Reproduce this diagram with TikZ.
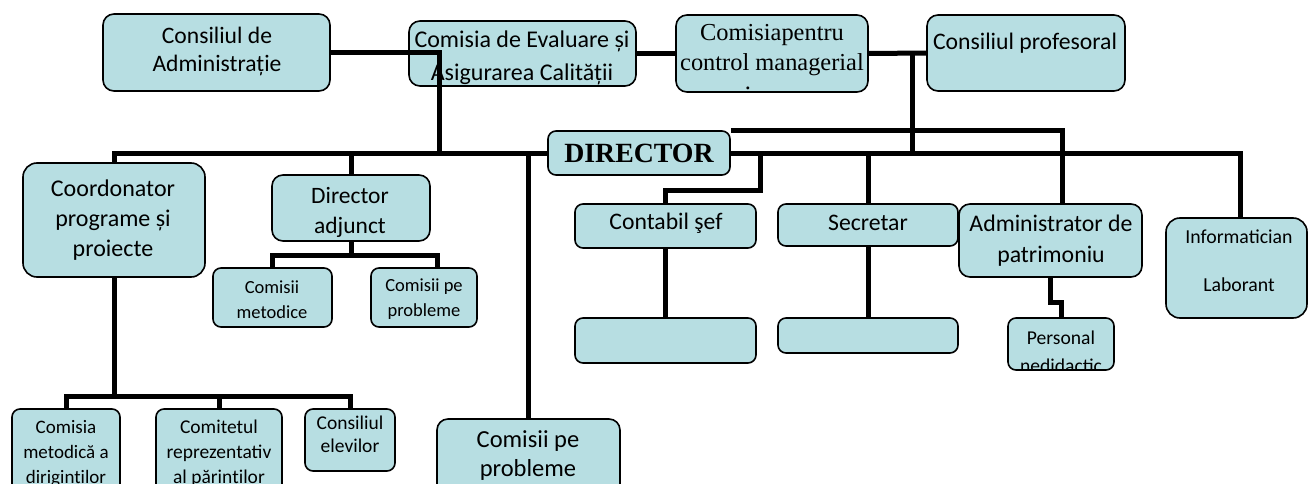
\documentclass[tikz,border=0pt]{standalone}
\usepackage{fontspec}
\setmainfont{Carlito}
\newfontfamily\timesf{Liberation Serif}
\usetikzlibrary{calc}
\definecolor{boxfill}{RGB}{183,222,226}
\tikzset{
 box/.style={draw=black, line width=1.6pt, fill=boxfill, rounded corners=11pt, inner sep=0pt},
 sbox/.style={box, rounded corners=8pt},
 txt/.style={align=center, inner sep=0pt, text=black},
 conn/.style={draw=black, line width=5pt, line join=miter},
}
\begin{document}
\begin{tikzpicture}[x=1pt,y=-1pt]
\useasboundingbox (0,0) rectangle (1308,484);
% ---------- boxes ----------
\node[box, minimum width=227pt, minimum height=77pt] (ca) at (216.5,52.5) {};
\node[box, minimum width=227pt, minimum height=65pt] (ceac) at (522.5,53.5) {};
\node[box, minimum width=192pt, minimum height=77pt] (cpcm) at (772,53.5) {};
\node[box, minimum width=198pt, minimum height=76pt] (cp) at (1026,53) {};
\node[sbox, minimum width=182pt, minimum height=44pt, font=\timesf\bfseries\fontsize{27.8}{30}\selectfont] (dir) at (639,153) {DIRECTOR};
\node[box, rounded corners=14pt, minimum width=182pt, minimum height=114pt] (coord) at (114,220) {};
\node[box, minimum width=158pt, minimum height=66pt] (da) at (351,208) {};
\node[sbox, minimum width=119pt, minimum height=59pt] (cm) at (272.5,297.5) {};
\node[sbox, minimum width=106pt, minimum height=59pt] (cpp) at (424,297.5) {};
\node[box, minimum width=183pt, minimum height=82pt] (cpb) at (528.5,460) {};
\node[sbox, minimum width=108pt, minimum height=86pt] (cmd) at (66,452) {};
\node[sbox, minimum width=126pt, minimum height=86pt] (crp) at (219,452) {};
\node[sbox, minimum width=90pt, minimum height=62pt] (ce) at (350,440) {};
\node[sbox, minimum width=181pt, minimum height=44pt] (cs) at (665.5,226) {};
\node[sbox, minimum width=181pt, minimum height=45pt] (e1) at (665.5,340.5) {};
\node[sbox, minimum width=180pt, minimum height=42pt] (sec) at (868,225) {};
\node[sbox, minimum width=180pt, minimum height=35pt] (e2) at (868,335.5) {};
\node[box, minimum width=183pt, minimum height=73pt] (adm) at (1050.5,240.5) {};
\node[sbox, minimum width=106pt, minimum height=52pt] (pn) at (1061,344) {};
\node[box, rounded corners=14pt, minimum width=141pt, minimum height=100pt] (inf) at (1236.5,268) {};
% ---------- texts ----------
\node[txt, font=\fontsize{23.6}{28}\selectfont] (ca-t) at (217,51) {Consiliul de\\Administrație};
\begin{scope}
\clip (ceac.south west) rectangle (ceac.north east);
\node[txt, font=\fontsize{24}{33}\selectfont] (ceac-t) at (522,58) {Comisia de Evaluare și\\Asigurarea Calității};
\end{scope}
\node[txt, font=\timesf\fontsize{24.4}{30}\selectfont] (cpcm-t) at (772,50) {Comisiapentru\\control managerial};
\node[txt, font=\timesf\fontsize{24.4}{30}\selectfont, anchor=base] (cpcm-d) at (748,90) {.};
\node[txt, font=\fontsize{23.7}{28}\selectfont] (cp-t) at (1025,43) {Consiliul profesoral};
\node[txt, font=\fontsize{24}{30}\selectfont] (coord-t) at (113,220) {Coordonator\\programe și\\proiecte};
\node[txt, font=\fontsize{23.5}{30}\selectfont] (da-t) at (350,212) {Director\\adjunct};
\node[txt, font=\fontsize{18.5}{25}\selectfont] (cm-t) at (272,299.5) {Comisii\\metodice};
\node[txt, font=\fontsize{18.5}{25}\selectfont] (cpp-t) at (424,299.5) {Comisii pe\\probleme};
\node[txt, font=\fontsize{24.5}{29}\selectfont] (cpb-t) at (528,455.5) {Comisii pe\\probleme};
\node[txt, font=\fontsize{19}{25}\selectfont] (cmd-t) at (66,454) {Comisia\\metodică a\\diriginților};
\node[txt, font=\fontsize{19.5}{25}\selectfont] (crp-t) at (219,454) {Comitetul\\reprezentativ\\al părinților};
\node[txt, font=\fontsize{19.5}{23}\selectfont] (ce-t) at (350,434) {Consiliul\\elevilor};
\node[txt, font=\fontsize{23.7}{28}\selectfont] (cs-t) at (666,223) {Contabil şef};
\node[txt, font=\fontsize{23.7}{28}\selectfont] (sec-t) at (868,223) {Secretar};
\node[txt, font=\fontsize{23.8}{31}\selectfont] (adm-t) at (1051,240.5) {Administrator de\\patrimoniu};
\begin{scope}
\clip (pn.south west) rectangle (pn.north east);
\node[txt, font=\fontsize{19.6}{28}\selectfont] (pn-t) at (1061,351.5) {Personal\\nedidactic};
\end{scope}
\node[txt, font=\fontsize{19.8}{24}\selectfont] (inf-t) at (1239,261) {Informatician\\[24pt]Laborant};
% ---------- connectors ----------
\coordinate (j1) at (439,153);
\coordinate (j2) at (912,153);
\coordinate (j3) at (760,153);
\draw[conn] (ca.east) -| (j1);
\draw[conn] (coord.north) |- (dir.west);
\draw[conn] (dir.east) -| ($(inf.north)+(3.5,0)$);
\draw[conn] (ceac.east) -- (cpcm.west);
\draw[conn] (cpcm.east) -- (cp.west);
\draw[conn] (cpcm.east -| j2) -- (j2);
\draw[conn] (dir.north east) -| ($(adm.north)+(11.5,0)$);
\draw[conn] (j3) -- ++(0,37) -| (cs.north);
\draw[conn] (sec.north |- j3) -- (sec.north);
\draw[conn] (cpb.north |- j1) -- (cpb.north);
\draw[conn] (da.north |- j1) -- (da.north);
\draw[conn] (coord.south) -- ++(0,119) coordinate (j4);
\draw[conn] (cmd.north) |- (j4) -| (ce.north);
\draw[conn] (crp.north |- j4) -- (crp.north);
\draw[conn] (da.south) -- ++(0,14) coordinate (j5);
\draw[conn] (cm.north) |- (j5) -| ($(cpp.north)+(13,0)$);
\draw[conn] (cs.south) -- (e1.north);
\draw[conn] (sec.south) -- (e2.north);
\draw[conn] (adm.south) -- ++(0,25) -| (pn.north);
\end{tikzpicture}
\end{document}
